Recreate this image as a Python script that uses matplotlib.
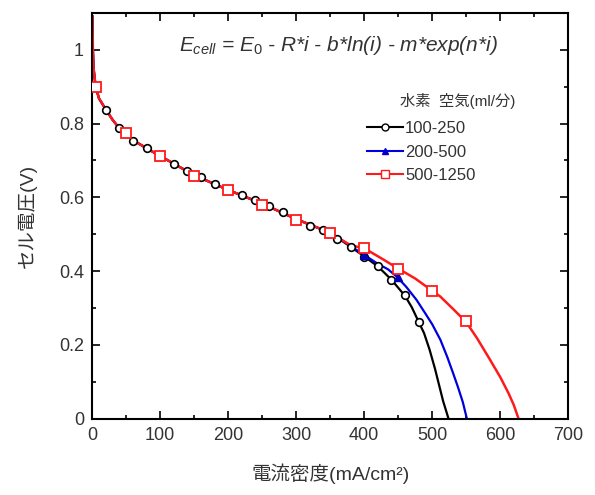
import numpy as np
import matplotlib.pyplot as plt
from matplotlib.ticker import MultipleLocator

plt.rcParams['font.family'] = ['Liberation Sans', 'Noto Sans CJK JP', 'DejaVu Sans']
plt.rcParams['mathtext.fontset'] = 'custom'
plt.rcParams['mathtext.it'] = 'Liberation Sans:italic'
plt.rcParams['mathtext.rm'] = 'Liberation Sans'

# measured points (current density mA/cm2, cell voltage V)
black_x = [20, 40, 60, 80, 100, 120, 140, 160, 180, 200, 220, 240, 260, 280, 300,
           320, 340, 360, 380, 400, 420, 440, 460, 480]
black_y = [0.838, 0.787, 0.752, 0.735, 0.712, 0.691, 0.672, 0.655, 0.637, 0.620, 0.607, 0.592,
           0.577, 0.559, 0.540, 0.523, 0.511, 0.486, 0.466, 0.439, 0.415, 0.377, 0.335, 0.263]
blue_x = [5, 50, 100, 150, 200, 250, 300, 350, 400, 450]
blue_y = [0.900, 0.775, 0.712, 0.658, 0.620, 0.580, 0.540, 0.503, 0.443, 0.385]
red_x = [5, 50, 100, 150, 200, 250, 300, 350, 400, 450, 500, 550]
red_y = [0.900, 0.775, 0.712, 0.658, 0.620, 0.580, 0.540, 0.503, 0.464, 0.407, 0.347, 0.265]

# fitted curves
common_x = [0.3, 1, 2, 5, 10, 20, 30, 40, 60, 80, 100, 150, 200, 250, 300, 350]
common_y = [1.09, 1.0, 0.95, 0.90, 0.868, 0.838, 0.81, 0.787, 0.755, 0.733, 0.712, 0.66,
            0.62, 0.583, 0.541, 0.504]
black_tail_x = [380, 400, 420, 440, 460, 470, 480, 488, 496, 504, 510, 516, 520, 524]
black_tail_y = [0.466, 0.440, 0.413, 0.377, 0.333, 0.302, 0.263, 0.232, 0.188, 0.136,
                0.092, 0.048, 0.024, 0.0]
blue_tail_x = [380, 400, 420, 435, 448, 462, 477, 490, 500, 512, 522, 531, 538, 545, 551]
blue_tail_y = [0.468, 0.444, 0.420, 0.405, 0.385, 0.357, 0.322, 0.285, 0.256, 0.214,
               0.168, 0.122, 0.085, 0.045, 0.0]
red_tail_x = [380, 400, 425, 450, 475, 500, 512, 531, 550, 566, 585, 600, 612, 620, 627]
red_tail_y = [0.470, 0.462, 0.435, 0.407, 0.380, 0.347, 0.331, 0.297, 0.262, 0.218,
              0.160, 0.113, 0.070, 0.037, 0.0]

labels = ['100-250', '200-500', '500-1250']

fig = plt.figure(figsize=(5.95, 4.95), dpi=100)
ax = fig.add_axes([0.155, 0.154, 0.80, 0.82])
txt = '#333333'

ax.plot(common_x + black_tail_x, common_y + black_tail_y, color='black', lw=1.6, zorder=2)
ax.plot(common_x + blue_tail_x, common_y + blue_tail_y, color='#0000dd', lw=1.6, zorder=2)
ax.plot(common_x + red_tail_x, common_y + red_tail_y, color='#ff1a1a', lw=1.8, zorder=2)

ax.plot(black_x, black_y, 'o', ms=5.5, mfc='white', mec='black', mew=1.2, zorder=3)
ax.plot(blue_x, blue_y, '^', ms=5.5, mfc='#0000bb', mec='#0000bb', zorder=3)
ax.plot(red_x, red_y, 's', ms=7, mfc='white', mec='#ff1a1a', mew=1.3, zorder=4)

# legend handles
h1, = ax.plot([], [], '-o', color='black', ms=5, mfc='white', lw=1.5)
h2, = ax.plot([], [], '-^', color='#0000dd', ms=5, mfc='#0000bb', lw=1.5)
h3, = ax.plot([], [], '-s', color='#ff1a1a', ms=6, mfc='white', lw=1.5)
leg = ax.legend([h1, h2, h3], labels, loc='upper left', bbox_to_anchor=(0.545, 0.77),
                frameon=False, fontsize=12, handlelength=2.2, handletextpad=0.1,
                labelspacing=0.5, labelcolor=txt)
ax.text(0.647, 0.783, '水素  空気(ml/分)', transform=ax.transAxes, fontsize=11,
        color=txt, va='center')

ax.text(0.517, 0.919, r'$E_{cell}$ = $E_0$ - R*i - b*ln(i) - m*exp(n*i)',
        transform=ax.transAxes, fontsize=15, style='italic', color=txt,
        ha='center', va='center')

ax.set_xlim(0, 700)
ax.set_ylim(0, 1.1)
ax.xaxis.set_major_locator(MultipleLocator(100))
ax.xaxis.set_minor_locator(MultipleLocator(50))
ax.yaxis.set_minor_locator(MultipleLocator(0.1))
ax.set_yticks([0, 0.2, 0.4, 0.6, 0.8, 1.0])
ax.set_yticklabels(['0', '0.2', '0.4', '0.6', '0.8', '1'])
ax.tick_params(which='both', direction='in', top=True, right=True, colors='black',
               labelcolor=txt, labelsize=13, width=1.2)
ax.tick_params(which='major', length=6, pad=6)
ax.tick_params(which='minor', length=3)
for s in ax.spines.values():
    s.set_linewidth(1.5)

ax.set_xlabel('電流密度(mA/cm²)', fontsize=14, color=txt, labelpad=14)
ax.set_ylabel('セル電圧(V)', fontsize=14, color=txt, labelpad=16)

fig.savefig('out.png', dpi=100)
